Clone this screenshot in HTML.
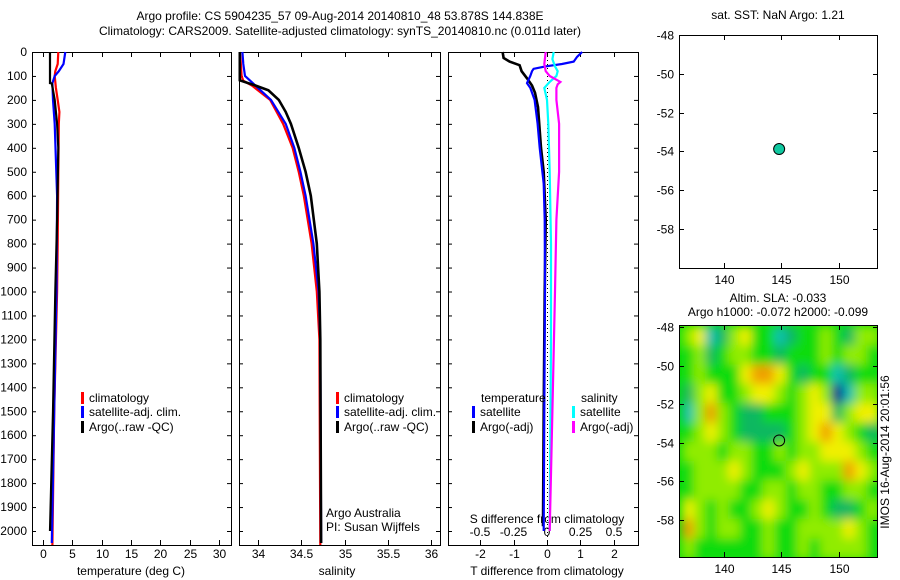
<!DOCTYPE html>
<html><head><meta charset="utf-8"><style>
body{margin:0;background:#fff;}
svg{display:block;font-family:"Liberation Sans",sans-serif;font-size:12px;}
</style></head><body>
<svg id="c" width="900" height="580" viewBox="0 0 900 580"></svg>
<script>
// ---- data ----
const depthTicks=[0,100,200,300,400,500,600,700,800,900,1000,1100,1200,1300,1400,1500,1600,1700,1800,1900,2000];
const tempTicks=[0,5,10,15,20,25,30];
const salTicks=[34,34.5,35,35.5,36];
const tdiffTicks=[-2,-1,0,1,2];
const sdiffTicks=[-0.5,-0.25,0,0.25,0.5];
const lonTicks=[140,145,150];
const latTicks=[-48,-50,-52,-54,-56,-58];

const tClimDepth=[0,50,80,100,150,200,250,300,500,800,1000,1500,2080];
const tClimVal=[2.6,2.5,2.1,2.0,2.2,2.5,2.8,2.7,2.6,2.5,2.4,1.9,1.6];
const tSatDepth=[0,50,80,100,130,200,300,600,1000,1500,2050];
const tSatVal=[3.8,3.5,2.7,2.0,1.6,1.7,2.0,2.4,2.3,1.9,1.5];
const tArgoDepth=[0,130,131,200,300,400,700,1000,1500,2000];
const tArgoVal=[1.2,1.2,1.5,2.0,2.4,2.6,2.4,2.1,1.7,1.2];

const sClimDepth=[0,40,100,120,140,200,300,400,500,600,800,1000,1200,2080];
const sClimVal=[33.79,33.80,33.81,33.83,33.93,34.14,34.29,34.40,34.47,34.53,34.62,34.68,34.71,34.72];
const sSatDepth=[0,50,100,120,150,200,300,400,500,600,800,1000,1200,2050];
const sSatVal=[33.82,33.83,33.85,33.91,34.00,34.15,34.32,34.42,34.49,34.55,34.64,34.70,34.72,34.73];
const sArgoDepth=[0,118,140,160,200,250,300,400,500,600,800,1000,1200,2050];
const sArgoVal=[33.79,33.79,33.97,34.12,34.24,34.32,34.38,34.47,34.55,34.61,34.68,34.71,34.72,34.73];

const dTSatDepth=[0,20,40,50,60,70,80,100,130,150,200,300,400,550,700,1000,1500,2000];
const dTSatVal=[1.05,0.9,0.8,0.45,-0.05,-0.4,-0.45,-0.5,-0.6,-0.5,-0.37,-0.28,-0.22,-0.1,-0.07,-0.06,-0.08,-0.1];
const dTArgoDepth=[0,25,40,55,80,110,140,170,230,400,500,700,1000,1500,1980];
const dTArgoVal=[-1.33,-1.3,-1.12,-0.82,-0.76,-0.6,-0.45,-0.36,-0.27,-0.18,-0.1,-0.04,-0.07,-0.1,-0.12];
const dSSatDepth=[0,30,60,80,100,125,150,200,300,500,800,1200,2000];
const dSSatVal=[0.05,0.04,0.06,0.08,0.07,0.02,-0.02,0.0,0.01,0.02,0.03,0.03,0.02];
const dSArgoDepth=[0,50,80,100,125,135,150,200,300,500,700,1000,1500,2000];
const dSArgoVal=[-0.01,-0.02,-0.01,0.02,0.1,0.08,0.07,0.07,0.09,0.09,0.07,0.06,0.04,0.02];

const floatLon=[144.838];
const floatLat=[-53.878];
const slaLons=[137,138,139,140,141,142,143,144,145,146,147,148,149,150,151,152,153];
const slaLats=[-48.5,-49.5,-50.5,-51.5,-52.5,-53.5,-54.5,-55.5,-56.5,-57.5,-58.5,-59.5];
const slaGrid=[
[1,2,-2,-1,1,2,0,0,-2,-1,0,0,1,0,-1,1,1],
[0,1,-1,0,1,1,0,0,-1,0,0,0,1,0,1,1,0],
[0,1,0,0,0,2,3,3,2,0,-1,0,0,-2,-1,0,0],
[-1,1,2,0,0,1,2,2,1,0,1,2,1,-4,-2,1,1],
[-2,1,3,1,0,-1,-1,0,0,0,1,2,2,-1,1,2,2],
[0,1,2,1,0,-1,-1,-1,-1,0,1,2,3,2,1,0,-1],
[1,1,1,0,1,1,0,0,1,0,1,1,2,2,2,1,0],
[0,1,1,1,2,1,0,0,0,1,2,1,1,1,3,2,1],
[0,1,1,1,1,0,0,1,1,0,1,1,0,0,1,1,0],
[2,1,0,1,0,0,1,2,1,0,0,1,0,-1,-1,0,1],
[3,1,0,1,1,0,0,1,0,0,1,1,1,1,2,1,0],
[1,0,0,0,0,0,0,1,0,0,1,0,1,1,1,1,0]];

// ---- scales ----
const NS="http://www.w3.org/2000/svg";
const svg=document.getElementById('c');
const TOP=52,BOT=545;
const yD=d=>TOP+d*0.2395;
const xT=t=>43+t*5.87;
const xS=s=>258+(s-34)*86.5;
const xDT=v=>547+v*33.4;
const xDS=v=>547+v*134;
const xLon=l=>781+(l-145)*11.5;
const yLatTop=l=>35+(-48-l)*19.4;
const yLatBot=l=>327+(-48-l)*19.3;
function el(tag,attrs,parent){const e=document.createElementNS(NS,tag);for(const k in attrs)e.setAttribute(k,attrs[k]);(parent||svg).appendChild(e);return e;}
function txt(x,y,s,anchor,parent){const t=el('text',{x:x,y:y,'text-anchor':anchor||'middle'},parent);t.textContent=s;return t;}

// titles
let t=txt(340,20,'Argo profile: CS 5904235_57 09-Aug-2014 20140810_48 53.878S 144.838E');

t=txt(340,35,'Climatology: CARS2009. Satellite-adjusted climatology: synTS_20140810.nc (0.011d later)');


// panel frames
const panels=[[32,231,'temperature-panel'],[239,440,'salinity-panel'],[448,638,'difference-panel']];
panels.forEach(p=>{
  const r=el('rect',{x:p[0]+.5,y:TOP+.5,width:p[1]-p[0],height:BOT-TOP,fill:'none',stroke:'#000'});
  
});
depthTicks.forEach(d=>{
  const tk=txt(27,yD(d)+4,String(d),'end');
  
  panels.forEach(p=>{el('line',{x1:p[0],x2:p[0]+4,y1:yD(d)+.5,y2:yD(d)+.5,stroke:'#000'});el('line',{x1:p[1]-4,x2:p[1],y1:yD(d)+.5,y2:yD(d)+.5,stroke:'#000'});});
});
function xticks(vals,fx,ylab){vals.forEach(v=>{const x=Math.round(fx(v))+.5;
  el('line',{x1:x,x2:x,y1:TOP,y2:TOP+5,stroke:'#000'});el('line',{x1:x,x2:x,y1:BOT-5,y2:BOT,stroke:'#000'});
  const l=txt(x,ylab,String(v));});}
xticks(tempTicks,xT,558);
xticks(salTicks,xS,558);
xticks(tdiffTicks,xDT,558);
sdiffTicks.forEach(v=>{const l=txt(xDS(v),536,String(v));});
t=txt(131,575,'temperature (deg C)');
t=txt(337,575,'salinity');
t=txt(547,575,'T difference from climatology');
t=txt(547,523,'S difference from climatology');

function prof(ds,vs,fx,color,name,w){
  let pts=[];for(let i=0;i<ds.length;i++){pts.push(fx(vs[i]).toFixed(1)+','+Math.min(BOT,yD(ds[i])).toFixed(1));}
  const p=el('polyline',{points:pts.join(' '),fill:'none',stroke:color,'stroke-width':w||2.2});
  
}
el('line',{x1:xDT(0)+.5,x2:xDT(0)+.5,y1:TOP,y2:BOT,stroke:'#000','stroke-dasharray':'1,3'});
prof(tClimDepth,tClimVal,xT,'#f00','temp-climatology-line');
prof(tSatDepth,tSatVal,xT,'#00f','temp-satellite-line');
prof(tArgoDepth,tArgoVal,xT,'#000','temp-argo-line');
prof(sClimDepth,sClimVal,xS,'#f00','sal-climatology-line');
prof(sSatDepth,sSatVal,xS,'#00f','sal-satellite-line');
prof(sArgoDepth,sArgoVal,xS,'#000','sal-argo-line',2.6);
prof(dTArgoDepth,dTArgoVal,xDT,'#000','tdiff-argo-line',2.6);
prof(dTSatDepth,dTSatVal,xDT,'#00f','tdiff-satellite-line');
prof(dSSatDepth,dSSatVal,xDS,'#0ff','sdiff-satellite-line');
prof(dSArgoDepth,dSArgoVal,xDS,'#f0f','sdiff-argo-line');

function leg(x,y,color,label,name){
  const g=el('g',{});
  el('rect',{x:x,y:y-10,width:3,height:12,fill:color},g);txt(x+8,y,label,'start',g);
}
leg(81,402,'#f00','climatology','legend-climatology');
leg(81,416,'#00f','satellite-adj. clim.','legend-satellite-adj');
leg(81,431,'#000','Argo(..raw -QC)','legend-argo');
leg(336,402,'#f00','climatology','legend2-climatology');
leg(336,416,'#00f','satellite-adj. clim.','legend2-satellite-adj');
leg(336,431,'#000','Argo(..raw -QC)','legend2-argo');
t=txt(481,402,'temperature','start');
t=txt(581,402,'salinity','start');
leg(472,416,'#00f','satellite','legend-tdiff-satellite');
leg(472,431,'#000','Argo(-adj)','legend-tdiff-argo');
leg(572,416,'#0ff','satellite','legend-sdiff-satellite');
leg(572,431,'#f0f','Argo(-adj)','legend-sdiff-argo');
t=txt(326,517,'Argo Australia','start');
t=txt(326,531,'PI: Susan Wijffels','start');

function mapAxes(y0,y1,fy,name){
  const r=el('rect',{x:679.5,y:y0+.5,width:198,height:y1-y0,fill:'none',stroke:'#000'});
  
  latTicks.forEach(l=>{const y=Math.round(fy(l))+.5;el('line',{x1:679,x2:684,y1:y,y2:y,stroke:'#000'});el('line',{x1:873,x2:878,y1:y,y2:y,stroke:'#000'});
    const lb=txt(674,y+4,String(l),'end');});
  lonTicks.forEach(l=>{const x=Math.round(xLon(l))+.5;el('line',{x1:x,x2:x,y1:y0,y2:y0+5,stroke:'#000'});el('line',{x1:x,x2:x,y1:y1-5,y2:y1,stroke:'#000'});
    const lb=txt(x,y1+16,String(l));});
}
t=txt(778,19,'sat. SST: NaN Argo: 1.21');
mapAxes(35,268,yLatTop,'sst-map');
const dot=el('circle',{cx:xLon(floatLon[0]),cy:yLatTop(floatLat[0]),r:5.5,fill:'#10c8a0',stroke:'#000'});


// SLA heatmap
const cmapC=['#000090','#0060ff','#10c0b0','#10b860','#10dc10','#90ec00','#f0f000','#f0a000'];
function col(v){v=Math.max(-4,Math.min(3,v));return cmapC[Math.round(v)+4];}
const defs=el('defs',{});
const cp=el('clipPath',{id:'mclip'},defs);el('rect',{x:680,y:326,width:197,height:231},cp);
const fl=el('filter',{id:'bl',filterUnits:'userSpaceOnUse',x:650,y:300,width:260,height:290},defs);el('feGaussianBlur',{stdDeviation:5},fl);
const hg=el('g',{'clip-path':'url(#mclip)'});
el('rect',{x:670,y:316,width:220,height:250,fill:'#10dc10'},hg);
const cells=el('g',{filter:'url(#bl)'},hg);
const cw=11.5,ch=19.3;
slaLats.forEach((la,i)=>slaLons.forEach((lo,j)=>{
  const c=el('rect',{x:xLon(lo)-cw/2-1,y:yLatBot(la)-ch/2-1,width:cw+2,height:ch+2,fill:col(slaGrid[i][j])},cells);
  
}));
mapAxes(325,557,yLatBot,'sla-map');
const dot2=el('circle',{cx:xLon(floatLon[0]),cy:yLatBot(floatLat[0]),r:5.5,fill:'none',stroke:'#000'});

t=txt(778,302,'Altim. SLA: -0.033');
t=txt(778,316,'Argo h1000: -0.072 h2000: -0.099');
t=txt(0,0,'IMOS 16-Aug-2014 20:01:56');t.setAttribute('transform','translate(889,452) rotate(-90)');

</script>
</body></html>
